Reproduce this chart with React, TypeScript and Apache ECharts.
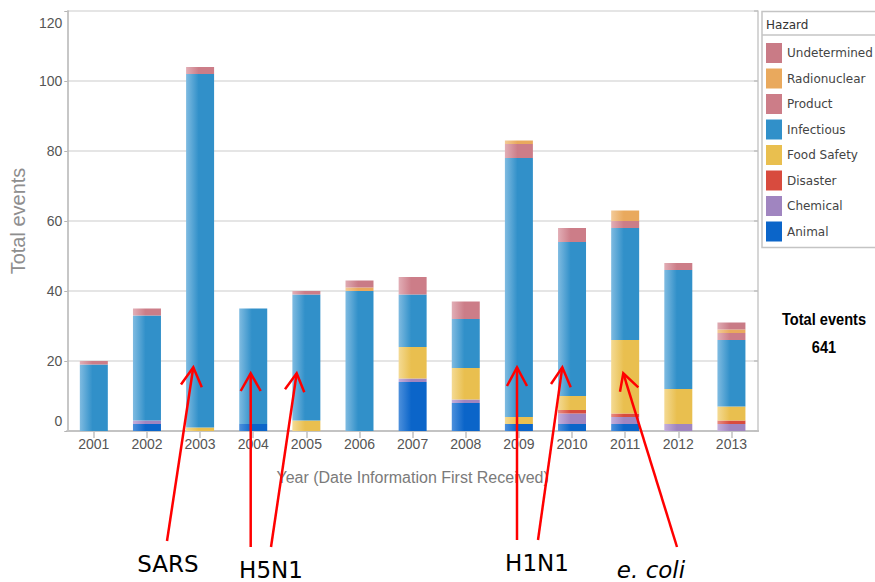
import React, { useEffect, useRef } from "react";
import * as echarts from "echarts";

const years = ["2001", "2002", "2003", "2004", "2005", "2006", "2007", "2008", "2009", "2010", "2011", "2012", "2013"];
const animal = [0, 2, 0, 2, 0, 0, 14, 8, 2, 2, 2, 0, 0];
const chemical = [0, 1, 0, 0, 0, 0, 1, 1, 0, 3, 2, 2, 2];
const disaster = [0, 0, 0, 0, 0, 0, 0, 0, 0, 1, 1, 0, 1];
const foodSafety = [0, 0, 1, 0, 3, 0, 9, 9, 2, 4, 21, 10, 4];
const infectious = [19, 30, 101, 33, 36, 40, 15, 14, 74, 44, 32, 34, 19];
const product = [1, 2, 2, 0, 1, 0, 5, 5, 4, 4, 2, 2, 2];
const radionuclear = [0, 0, 0, 0, 0, 1, 0, 0, 1, 0, 3, 0, 1];
const undetermined = [0, 0, 0, 0, 0, 2, 0, 0, 0, 0, 0, 0, 2];
const yTicks = [0, 20, 40, 60, 80, 100, 120];
const totalEvents = 641;

const hazards = [
  { name: "Animal", data: animal, color: "#0b65c9", light: "#4d90dc" },
  { name: "Chemical", data: chemical, color: "#a085c0", light: "#c4afdc" },
  { name: "Disaster", data: disaster, color: "#d84b3e", light: "#e88c83" },
  { name: "Food Safety", data: foodSafety, color: "#e9bf4f", light: "#f4da93" },
  { name: "Infectious", data: infectious, color: "#3190c9", light: "#7fbbe1" },
  { name: "Product", data: product, color: "#cc7d88", light: "#e2aeb6" },
  { name: "Radionuclear", data: radionuclear, color: "#e9a95d", light: "#f3ca98" },
  { name: "Undetermined", data: undetermined, color: "#c97b86", light: "#dfaab2" },
];

const annotations = [
  { text: "SARS", x: 168, y: 564, italic: false },
  { text: "H5N1", x: 271, y: 570, italic: false },
  { text: "H1N1", x: 537, y: 563, italic: false },
  { text: "e. coli", x: 651, y: 570, italic: true },
];

const arrows = [
  { from: [167, 541], tip: [193.3, 367.3], w1: [181, 384.5], w2: [201.8, 387.3] },
  { from: [250.7, 547], tip: [250.7, 373.3], w1: [240.7, 391], w2: [260.7, 391] },
  { from: [271, 547], tip: [296.7, 373.3], w1: [285, 389.3], w2: [304.3, 392.3] },
  { from: [517, 540], tip: [517, 367.3], w1: [507, 386], w2: [527, 386] },
  { from: [538, 540], tip: [562.3, 367.3], w1: [551, 384], w2: [570.7, 387.3] },
  { from: [677, 547], tip: [623.3, 373.3], w1: [620, 391.7], w2: [638.3, 387.3] },
];

export default function App() {
  const ref = useRef<HTMLDivElement>(null);
  useEffect(() => {
    if (!ref.current) return;
    const chart = echarts.init(ref.current, null, { renderer: "svg" });
    const red = "#ff0000";
    const graphics: any[] = [];
    arrows.forEach((a) => {
      graphics.push({
        type: "line",
        shape: { x1: a.from[0], y1: a.from[1], x2: a.tip[0], y2: a.tip[1] },
        style: { stroke: red, lineWidth: 2.5 },
        z: 100,
      });
      graphics.push({
        type: "polyline",
        shape: { points: [a.w1, a.tip, a.w2] },
        style: { stroke: red, lineWidth: 2.5, fill: "none" },
        z: 100,
      });
    });
    annotations.forEach((t) => {
      graphics.push({
        type: "text",
        x: t.x,
        y: t.y,
        style: {
          text: t.text,
          fontFamily: "DejaVu Sans",
          fontSize: 23,
          fontStyle: t.italic ? "italic" : "normal",
          fill: "#000",
          align: "center",
          verticalAlign: "middle",
        },
        z: 100,
      });
    });
    graphics.push(
      {
        type: "rect",
        shape: { x: 762, y: 11.5, width: 140, height: 236 },
        style: { fill: "none", stroke: "#c4c4c4", lineWidth: 1.5 },
      },
      {
        type: "line",
        shape: { x1: 762, y1: 35, x2: 880, y2: 35 },
        style: { stroke: "#c4c4c4", lineWidth: 1.5 },
      },
      {
        type: "text",
        x: 766,
        y: 25,
        style: { text: "Hazard", fontFamily: "DejaVu Sans", fontSize: 12, fill: "#333", verticalAlign: "middle" },
      },
      {
        type: "text",
        x: 824,
        y: 319,
        scaleX: 0.86,
        style: {
          text: "Total events",
          fontFamily: "Liberation Sans, Arial",
          fontWeight: "bold",
          fontSize: 17,
          fill: "#000",
          align: "center",
          verticalAlign: "middle",
        },
      },
      {
        type: "text",
        x: 824,
        y: 347,
        scaleX: 0.86,
        style: {
          text: String(totalEvents),
          fontFamily: "Liberation Sans, Arial",
          fontWeight: "bold",
          fontSize: 17,
          fill: "#000",
          align: "center",
          verticalAlign: "middle",
        },
      }
    );

    const legendOrder = [...hazards].reverse();

    chart.setOption({
      animation: false,
      grid: { left: 63, right: 117, top: 11, bottom: 151, containLabel: false },
      legend: {
        orient: "vertical",
        left: 766,
        top: 43,
        padding: 0,
        itemWidth: 16,
        itemHeight: 20,
        itemGap: 5.5,
        icon: "rect",
        selectedMode: false,
        textStyle: { fontFamily: "DejaVu Sans", fontSize: 12, color: "#444" },
        data: legendOrder.map((h) => ({ name: h.name, itemStyle: { color: h.color } })),
      },
      xAxis: [
        {
          type: "category",
          data: years,
          position: "bottom",
          axisLine: { lineStyle: { color: "#b4b4b4", width: 2 } },
          axisTick: { show: false },
          axisLabel: { fontFamily: "Liberation Sans, Arial", fontSize: 14, color: "#555", margin: 6 },
          name: "Year (Date Information First Received)",
          nameLocation: "middle",
          nameGap: 38,
          nameTextStyle: { fontFamily: "Liberation Sans, Arial", fontSize: 16, color: "#7a7a7a" },
        },
        {
          type: "category",
          data: years,
          position: "top",
          axisLine: { lineStyle: { color: "#c8c8c8", width: 1.5 } },
          axisTick: { show: true, inside: true, alignWithLabel: true, length: 7, lineStyle: { color: "#c0c0c0", width: 1.5 } },
          axisLabel: { show: false },
        },
      ],
      yAxis: [
        {
          type: "value",
          min: yTicks[0],
          max: yTicks[yTicks.length - 1],
          interval: 20,
          position: "left",
          axisLine: { show: true, lineStyle: { color: "#b4b4b4", width: 1.5 } },
          axisTick: { show: true, length: 3, lineStyle: { color: "#b4b4b4" } },
          splitLine: { lineStyle: { color: "#dcdcdc", width: 1.5 } },
          axisLabel: {
            fontFamily: "Liberation Sans, Arial",
            fontSize: 14,
            color: "#555",
            margin: 5,
            formatter: (v: number) => (v === 0 ? "{lo|0}" : v === 120 ? "{hi|120}" : String(v)),
            rich: {
              lo: { fontFamily: "Liberation Sans, Arial", fontSize: 14, color: "#555", padding: [0, 0, 20, 0] },
              hi: { fontFamily: "Liberation Sans, Arial", fontSize: 14, color: "#555", padding: [24, 0, 0, 0] },
            },
          },
          name: "Total events",
          nameLocation: "middle",
          nameGap: 28,
          nameRotate: 90,
          nameTextStyle: { fontFamily: "Liberation Sans, Arial", fontSize: 20, color: "#8e8e8e" },
        },
        {
          type: "value",
          min: yTicks[0],
          max: yTicks[yTicks.length - 1],
          interval: 20,
          position: "right",
          axisLine: { show: true, lineStyle: { color: "#c8c8c8", width: 1.5 } },
          axisTick: { show: true, inside: true, length: 4, lineStyle: { color: "#c0c0c0", width: 1.5 } },
          splitLine: { show: false },
          axisLabel: { show: false },
        },
      ],
      series: hazards.map((h) => ({
        name: h.name,
        type: "bar",
        stack: "total",
        barWidth: 28,
        xAxisIndex: 0,
        yAxisIndex: 0,
        data: h.data,
        itemStyle: {
          color: new echarts.graphic.LinearGradient(0, 0, 1, 0, [
            { offset: 0, color: h.light },
            { offset: 0.45, color: h.color },
            { offset: 1, color: h.color },
          ]),
        },
      })),
      graphic: graphics,
    });
    return () => chart.dispose();
  }, []);
  return (
    <div
      ref={ref}
      style={{ position: "fixed", left: 0, top: 0, width: 875, height: 582, background: "#fff" }}
    />
  );
}
